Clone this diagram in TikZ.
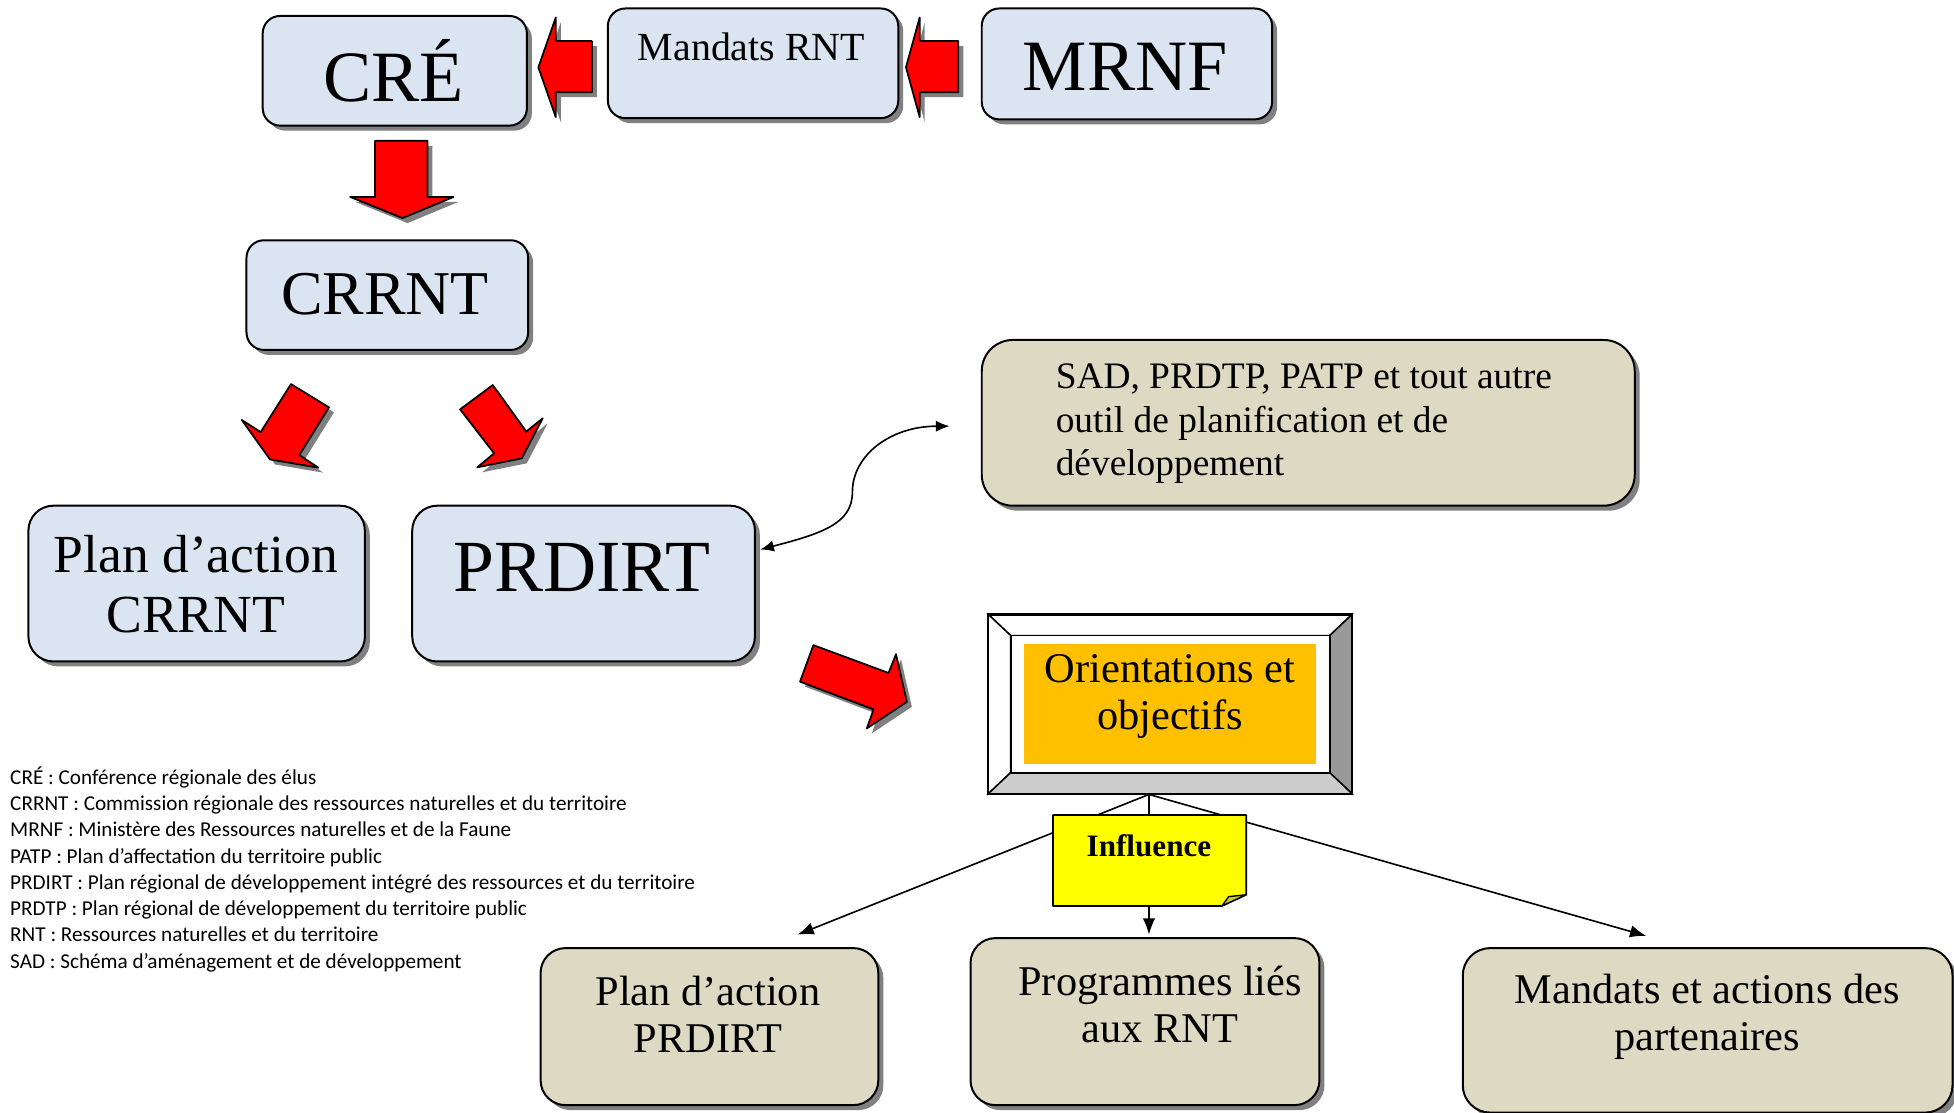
\documentclass[tikz,border=0pt]{standalone}
\usepackage{fontspec}
\setmainfont{Liberation Serif}
\newfontfamily\legendfont{Carlito}
\usetikzlibrary{shadows,arrows.meta}
\definecolor{boxblue}{HTML}{DBE5F1}
\definecolor{boxbeige}{HTML}{DDD9C3}
\definecolor{orangefill}{HTML}{FFC000}
\definecolor{noteyellow}{HTML}{FFFF00}
\definecolor{folddark}{HTML}{CCCC33}
\definecolor{shadowgray}{HTML}{808080}
\newcommand{\redarrowshape}[1]{%
  \fill[shadowgray, shift={(4,4)}] #1 -- cycle;
  \filldraw[fill=red, draw=black, line width=1.4pt, line join=round] #1 -- cycle;}
\newcommand{\fs}[2]{\fontsize{#1}{#2}\selectfont}
\begin{document}
\begin{tikzpicture}[x=1pt,y=-1pt,
  basebox/.style={draw=black, line width=1.6pt, inner sep=0pt, anchor=north west,
    drop shadow={shadow xshift=4pt, shadow yshift=-4pt, fill=shadowgray, opacity=1}},
  bluebox/.style={basebox, fill=boxblue},
  beigebox/.style={basebox, fill=boxbeige},
  txt/.style={inner sep=0pt, align=center},
  conn/.style={line width=1.3pt, -{Latex[length=13pt,width=10pt]}},
]
\useasboundingbox (0,0) rectangle (1568,893);
% top row
\node[bluebox, rounded corners=14pt, minimum width=212pt, minimum height=88pt] (cre) at (210,12) {};
\node[txt, font=\fs{58}{62}] (tcre) at (316,57) {CRÉ};
\node[bluebox, rounded corners=14pt, minimum width=233pt, minimum height=88pt] (mand) at (487,6) {};
\node[txt, font=\fs{32}{36}] (tmand) at (603,38) {Mandats RNT};
\node[bluebox, rounded corners=14pt, minimum width=233pt, minimum height=89pt] (mrnf) at (787,6) {};
\node[txt, font=\fs{58}{62}] (tmrnf) at (903,54) {MRNF};
% red arrows top row
\redarrowshape{(432,54) -- (446,14) -- (446,33) -- (475,33) -- (475,74) -- (446,74) -- (446,94)}
\redarrowshape{(727,54) -- (738,14) -- (738,33) -- (769,33) -- (769,74) -- (738,74) -- (738,94)}
\redarrowshape{(301,113) -- (343,113) -- (343,158) -- (364,158) -- (323,175) -- (281,158) -- (301,158)}
% CRRNT
\node[bluebox, rounded corners=14pt, minimum width=226pt, minimum height=88pt] (crrnt) at (197,192) {};
\node[txt, font=\fs{50}{54}] (tcrrnt) at (309,236) {CRRNT};
% diagonal arrows
\redarrowshape{(233.5,308.2) -- (264,326.9) -- (240.2,365.2) -- (255.5,375.3) -- (216.7,368.7) -- (194,337) -- (209.2,346.7)}
\redarrowshape{(369.2,328.5) -- (395.4,309) -- (422.2,346.4) -- (435.5,335.7) -- (418.7,367.8) -- (383,375) -- (396.5,363.8)}
% second row
\node[bluebox, rounded corners=20pt, minimum width=270pt, minimum height=125pt] (planc) at (22,405) {};
\node[txt, font=\fs{43}{48}] (tplanc) at (157,469) {Plan d’action\\CRRNT};
\node[bluebox, rounded corners=20pt, minimum width=275pt, minimum height=125pt] (prdirt) at (330,405) {};
\node[txt, font=\fs{59}{63}] (tprdirt) at (467,455) {PRDIRT};
% SAD box
\node[beigebox, rounded corners=25pt, minimum width=524pt, minimum height=133pt] (sad) at (787,272) {};
\node[txt, align=left, anchor=west, font=\fs{30}{35}] (tsad) at (847,340) {SAD, PRDTP, PATP et tout autre\\outil de planification et de\\développement};
% curved double arrow
\coordinate (c1) at (610,441);
\coordinate (c2) at (762,342);
\draw[line width=1.3pt, {Latex[length=11pt,width=9pt]}-{Latex[length=11pt,width=9pt]}]
  (c1) .. controls (660,428) and (684,420) .. (684,395) .. controls (684,365) and (715,342) .. (c2);
% big red arrow
\redarrowshape{(652.7,517.7) -- (713,540) -- (719,525) -- (727.7,563.2) -- (695.6,584.5) -- (701,569.3) -- (642,547)}
% frame box
\node[inner sep=0pt, minimum width=292pt, minimum height=145pt] (frame) at (939,565) {};
\filldraw[fill=white, draw=black, line width=1.2pt] (793,493) -- (1085,493) -- (1067,510) -- (811,510) -- cycle;
\filldraw[fill=white, draw=black, line width=1.2pt] (793,493) -- (811,510) -- (811,620) -- (793,637) -- cycle;
\filldraw[fill=black!40, draw=black, line width=1.2pt] (1085,493) -- (1085,637) -- (1067,620) -- (1067,510) -- cycle;
\filldraw[fill=black!20, draw=black, line width=1.2pt] (793,637) -- (1085,637) -- (1067,620) -- (811,620) -- cycle;
\draw[black, line width=2pt] (793,493) rectangle (1085,637);
\filldraw[fill=white, draw=black, line width=1.4pt] (811,510) rectangle (1067,620);
\fill[orangefill] (822,517) rectangle (1056,613);
\node[txt, font=\fs{34}{38}] (tframe) at (939,559) {Orientations et\\objectifs};
% connectors
\coordinate (hub) at (922,637.5);
\coordinate (t1) at (640,750);
\coordinate (t2) at (922,750);
\coordinate (t3) at (1321,751);
\draw[conn] (hub) -- (t1);
\draw[conn] (hub) -- (t2);
\draw[conn] (hub) -- (t3);
% influence note
\filldraw[fill=noteyellow, draw=black, line width=1.3pt, line join=round]
  (845,654) -- (1000,654) -- (1000,718) -- (980.5,727) -- (845,727) -- cycle;
\filldraw[fill=folddark, draw=black, line width=1.1pt, line join=round]
  (980.5,727) -- (986,719.5) -- (1000,718) -- cycle;
\node[txt, font=\fs{25}{29}\bfseries] (tinfl) at (922,679) {Influence};
% bottom boxes
\node[beigebox, rounded corners=20pt, minimum width=271pt, minimum height=126pt] (planp) at (433,760) {};
\node[txt, font=\fs{34}{38}] (tplanp) at (568,814) {Plan d’action\\PRDIRT};
\node[beigebox, rounded corners=20pt, minimum width=280pt, minimum height=134pt] (prog) at (778,752) {};
\node[txt, font=\fs{34}{38}] (tprog) at (931,806) {Programmes liés\\aux RNT};
\node[beigebox, rounded corners=22pt, minimum width=393pt, minimum height=132pt] (mandp) at (1173,760) {};
\node[txt, font=\fs{34}{38}] (tmandp) at (1370,816) {Mandats et actions des\\partenaires};
% legend
\begin{scope}[every node/.style={inner sep=0pt, anchor=base west, font=\legendfont\fs{17}{20}}]
\node (l1) at (8,629.5) {CRÉ : Conférence régionale des élus};
\node (l2) at (8,650.5) {CRRNT : Commission régionale des ressources naturelles et du territoire};
\node (l3) at (8,671.6) {MRNF : Ministère des Ressources naturelles et de la Faune};
\node (l4) at (8,692.6) {PATP : Plan d’affectation du territoire public};
\node (l5) at (8,713.7) {PRDIRT : Plan régional de développement intégré des ressources et du territoire};
\node (l6) at (8,734.7) {PRDTP : Plan régional de développement du territoire public};
\node (l7) at (8,755.7) {RNT : Ressources naturelles et du territoire};
\node (l8) at (8,776.8) {SAD : Schéma d’aménagement et de développement};
\end{scope}
\end{tikzpicture}
\end{document}
